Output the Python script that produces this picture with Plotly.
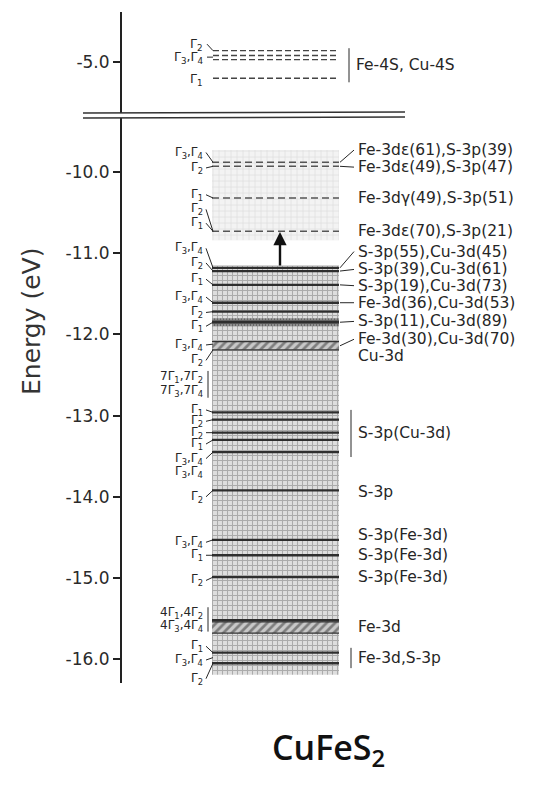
import plotly.graph_objects as go

W, H = 551, 789

# ---------------------------------------------------------------- data
# axis ticks (eV)
upper_ticks = [-5.0]
lower_ticks = [-10.0, -11.0, -12.0, -13.0, -14.0, -15.0, -16.0]
tick_text_upper = ["-5.0"]
tick_text_lower = ["-10.0", "-11.0", "-12.0", "-13.0", "-14.0", "-15.0", "-16.0"]

# Fe-4s / Cu-4s unoccupied levels (eV)
s4_levels = [-4.86, -4.92, -4.97, -5.20]
s4_labels = [("Γ2", -4.78, -4.86), ("Γ3,Γ4", -4.94, -4.94), ("Γ1", -5.21, None)]

# empty Fe-3d / S-3p antibonding levels (eV)
empty_levels = [-9.88, -9.93, -10.32, -10.73]
# occupied valence levels (eV)
filled_levels = [-11.18, -11.22, -11.39, -11.61, -11.72, -11.85,
                 -12.96, -13.05, -13.21, -13.30, -13.45, -13.92,
                 -14.53, -14.72, -14.99, -15.52, -15.92, -16.05]
dark_band = (-11.80, -11.90)
hatched_bands = [(-12.09, -12.19), (-15.54, -15.68)]

empty_region = (-9.73, -10.84)
filled_region = (-11.15, -16.19)
arrow_from, arrow_to = -11.17, -10.74

# symmetry labels on the left: (text, label energy, level energy)
left_labels = [
    ("Γ3,Γ4", -9.76, -9.88), ("Γ2", -9.95, -9.93), ("Γ1", -10.28, -10.32),
    ("Γ2", -10.46, -10.73), ("Γ1", -10.63, -10.73), ("Γ3,Γ4", -10.94, -11.18),
    ("Γ2", -11.12, -11.22), ("Γ1", -11.32, -11.39), ("Γ3,Γ4", -11.54, -11.61),
    ("Γ2", -11.73, -11.72), ("Γ1", -11.90, -11.85), ("Γ3,Γ4", -12.13, -12.12),
    ("Γ2", -12.32, -12.19), ("7Γ1,7Γ2", -12.52, None), ("7Γ3,7Γ4", -12.70, None),
    ("Γ1", -12.93, -12.96), ("Γ2", -13.07, -13.05), ("Γ2", -13.21, -13.21),
    ("Γ1", -13.35, -13.30), ("Γ3,Γ4", -13.53, -13.45), ("Γ3,Γ4", -13.70, None),
    ("Γ2", -14.00, -13.92), ("Γ3,Γ4", -14.56, -14.53), ("Γ1", -14.72, -14.72),
    ("Γ2", -15.03, -14.99), ("4Γ1,4Γ2", -15.43, None), ("4Γ3,4Γ4", -15.59, None),
    ("Γ1", -15.84, -15.92), ("Γ3,Γ4", -16.01, -15.98), ("Γ2", -16.24, -16.05),
]

# orbital character on the right: (text, label energy, level energy)
right_labels = [
    ("Fe-3dε(61),S-3p(39)", -9.73, -9.88),
    ("Fe-3dε(49),S-3p(47)", -9.94, -9.93),
    ("Fe-3dγ(49),S-3p(51)", -10.32, None),
    ("Fe-3dε(70),S-3p(21)", -10.73, None),
    ("S-3p(55),Cu-3d(45)", -10.98, -11.18),
    ("S-3p(39),Cu-3d(61)", -11.20, -11.22),
    ("S-3p(19),Cu-3d(73)", -11.40, -11.39),
    ("Fe-3d(36),Cu-3d(53)", -11.61, -11.61),
    ("S-3p(11),Cu-3d(89)", -11.84, -11.85),
    ("Fe-3d(30),Cu-3d(70)", -12.06, -12.14),
    ("Cu-3d", -12.26, None),
    ("S-3p(Cu-3d)", -13.21, None),
    ("S-3p", -13.94, None),
    ("S-3p(Fe-3d)", -14.47, None),
    ("S-3p(Fe-3d)", -14.72, None),
    ("S-3p(Fe-3d)", -14.99, None),
    ("Fe-3d", -15.60, None),
    ("Fe-3d,S-3p", -15.985, None),
]
s4_text = "Fe-4S, Cu-4S"
brackets_right = [(-12.93, -13.51), (-15.86, -16.11)]
brackets_left = [(-12.45, -12.78), (-15.36, -15.66)]
s4_bracket = (-4.83, -5.25)

# ---------------------------------------------------------------- layout constants
AX_X = 121
BOX_L, BOX_R = 212, 339
UP_L, UP_R = 213, 337
LBL_R = 205
TXT_L = 356
INK = "#262626"
FONT = "DejaVu Sans"


def gam(s):
    """Turn 'Γ3,Γ4' into HTML with subscripts."""
    out = []
    i = 0
    while i < len(s):
        c = s[i]
        if c == "Γ" and i + 1 < len(s) and s[i + 1].isdigit():
            out.append("Γ<sub>" + s[i + 1] + "</sub>")
            i += 2
        else:
            out.append(c)
            i += 1
    return "".join(out)


fig = go.Figure()


def rect(y0, y1, yaxis, pattern):
    fig.add_trace(go.Scatter(
        x=[BOX_L, BOX_R, BOX_R, BOX_L, BOX_L], y=[y0, y0, y1, y1, y0],
        mode="lines", fill="toself", line=dict(width=0, color="rgba(0,0,0,0)"),
        fillcolor="rgba(0,0,0,0)", fillpattern=pattern, yaxis=yaxis,
        hoverinfo="skip", showlegend=False))


# shaded density regions
rect(*empty_region, "y", dict(shape="+", size=6, solidity=0.2,
                              fgcolor="#c4c4c4", bgcolor="#f3f3f3"))
rect(*filled_region, "y", dict(shape="+", size=5, solidity=0.38,
                               fgcolor="#777777", bgcolor="#dedede"))
rect(*dark_band, "y", dict(shape="+", size=3, solidity=0.55,
                           fgcolor="#3a3a3a", bgcolor="#8e8e8e"))
for b in hatched_bands:
    rect(*b, "y", dict(shape="/", size=6, solidity=0.45,
                       fgcolor="#333333", bgcolor="#c8c8c8"))


def hlines(levels, x0, x1, yaxis, **line):
    xs, ys = [], []
    for e in levels:
        xs += [x0, x1, None]
        ys += [e, e, None]
    fig.add_trace(go.Scatter(x=xs, y=ys, mode="lines", line=line, yaxis=yaxis,
                             hoverinfo="skip", showlegend=False))


hlines(s4_levels, UP_L, UP_R, "y2", color="#444", width=1.3, dash="6px,3px")
hlines(empty_levels, BOX_L, BOX_R, "y", color="#555", width=1.4, dash="7px,4px")
hlines(filled_levels, BOX_L, BOX_R, "y", color="#2e2e2e", width=2.3)
for b in hatched_bands:
    hlines([b[0], b[1]], BOX_L, BOX_R, "y", color="#333", width=1.3)

# leader lines and brackets
lx, ly = [], []
for txt, e_lbl, e_lvl in left_labels:
    if e_lvl is not None:
        lx += [LBL_R + 1, BOX_L + 1, None]
        ly += [e_lbl, e_lvl, None]
for y0, y1 in brackets_left:
    lx += [LBL_R + 3, LBL_R + 3, None]
    ly += [y0, y1, None]
rx, ry = [], []
for txt, e_lbl, e_lvl in right_labels:
    if e_lvl is not None:
        rx += [BOX_R + 1, TXT_L - 2, None]
        ry += [e_lvl, e_lbl, None]
for y0, y1 in brackets_right:
    rx += [TXT_L - 5, TXT_L - 5, None]
    ry += [y0, y1, None]
fig.add_trace(go.Scatter(x=lx + rx, y=ly + ry, mode="lines",
                         line=dict(color=INK, width=1), yaxis="y",
                         hoverinfo="skip", showlegend=False))
ux, uy = [], []
for txt, e_lbl, e_lvl in s4_labels:
    if e_lvl is not None:
        ux += [LBL_R + 2, UP_L, None]
        uy += [e_lbl, e_lvl, None]
ux += [TXT_L - 7, TXT_L - 7, None]
uy += [s4_bracket[0], s4_bracket[1], None]
fig.add_trace(go.Scatter(x=ux, y=uy, mode="lines", line=dict(color=INK, width=1),
                         yaxis="y2", hoverinfo="skip", showlegend=False))

ann = []
for txt, e_lbl, _ in left_labels:
    ann.append(dict(x=LBL_R, y=e_lbl, yref="y", xref="x", text=gam(txt),
                    xanchor="right", yanchor="middle", showarrow=False,
                    font=dict(size=12, color=INK, family=FONT)))
for txt, e_lbl, _ in s4_labels:
    ann.append(dict(x=LBL_R, y=e_lbl, yref="y2", xref="x", text=gam(txt),
                    xanchor="right", yanchor="middle", showarrow=False,
                    font=dict(size=12.5, color=INK, family=FONT)))
for txt, e_lbl, _ in right_labels:
    ann.append(dict(x=TXT_L, y=e_lbl, yref="y", xref="x", text=txt,
                    xanchor="left", yanchor="middle", showarrow=False,
                    font=dict(size=15.5, color=INK, family=FONT)))
ann.append(dict(x=TXT_L - 2, y=sum(s4_bracket) / 2, yref="y2", xref="x",
                text=s4_text, xanchor="left", yanchor="middle", showarrow=False,
                font=dict(size=15.5, color=INK, family=FONT)))
# excitation arrow
ann.append(dict(x=280, y=arrow_to, ax=280, ay=arrow_from, xref="x", yref="y",
                axref="x", ayref="y", text="", showarrow=True, arrowhead=2,
                arrowsize=1.1, arrowwidth=2.4, arrowcolor="#111"))
# axis title and compound name
ann.append(dict(x=31, y=1 - 322 / H, xref="x", yref="paper", text="Energy (eV)",
                textangle=-90, showarrow=False,
                font=dict(size=25, color="#333", family=FONT)))
ann.append(dict(x=328, y=1 - 776 / H, xref="x", yref="paper", text="CuFeS<sub>2</sub>",
                showarrow=False, font=dict(size=34, color="#111", family="Open Sans",
                                           weight=600)))

# axis break (double line)
shapes = [
    dict(type="line", xref="x", yref="paper", x0=83, x1=405,
         y0=1 - 113 / H, y1=1 - 112 / H, line=dict(color="#333", width=1.6)),
    dict(type="line", xref="x", yref="paper", x0=83, x1=405,
         y0=1 - 118 / H, y1=1 - 117 / H, line=dict(color="#333", width=1.6)),
]

axis_common = dict(showgrid=False, zeroline=False, showline=True, linecolor="#222",
                   linewidth=2, ticks="outside", ticklen=7, tickwidth=1.5,
                   tickcolor="#222", anchor="free", position=AX_X / W,
                   tickfont=dict(size=17, color="#2a2a2a", family=FONT))

fig.update_layout(
    width=W, height=H, margin=dict(l=0, r=0, t=0, b=0),
    paper_bgcolor="white", plot_bgcolor="rgba(0,0,0,0)",
    xaxis=dict(range=[0, W], domain=[0, 1], visible=False, fixedrange=True),
    yaxis=dict(domain=[1 - 683 / H, 1 - 118 / H], range=[-16.293, -9.335],
               tickvals=lower_ticks, ticktext=tick_text_lower, **axis_common),
    yaxis2=dict(domain=[1 - 113 / H, 1 - 12 / H], range=[-5.628, -4.384],
                tickvals=upper_ticks, ticktext=tick_text_upper, **axis_common),
    annotations=ann, shapes=shapes, showlegend=False,
)

fig.write_html("out.html")
